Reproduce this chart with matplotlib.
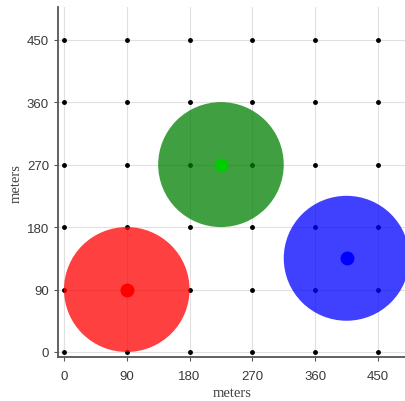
import numpy as np
import matplotlib.pyplot as plt
from matplotlib.patches import Circle

# grid of sensor points (meters)
grid_vals = [0, 90, 180, 270, 360, 450]

# circles: centres and radius
centers_x = [90, 225, 405]
centers_y = [90, 270, 135]
radii = [90, 90, 90]
fill_colors = ['#ff0000', '#007f00', '#0000ff']
dot_colors = ['#ff0000', '#00cc00', '#0000ff']

plt.rcParams['font.family'] = ['Liberation Sans', 'DejaVu Sans']

fig = plt.figure(figsize=(4.06, 4.02), dpi=100)
ax = fig.add_axes([0.143, 0.109, 0.86, 0.871])

gx, gy = np.meshgrid(grid_vals, grid_vals)
ax.plot(gx.ravel(), gy.ravel(), 'o', color='black', ms=2.5, zorder=2)

for cx, cy, r, fc, dc in zip(centers_x, centers_y, radii, fill_colors, dot_colors):
    ax.add_patch(Circle((cx, cy), r, facecolor=fc, edgecolor='none', alpha=0.75, zorder=3))
    ax.plot(cx, cy, 'o', color=dc, ms=9, zorder=4)

ax.set_xlim(-8.5, 492)
ax.set_ylim(-7.5, 497)
ax.set_xticks(grid_vals)
ax.set_yticks(grid_vals)
ax.grid(True, color='#e0e0e0', lw=0.8, zorder=0)
ax.set_axisbelow(True)

for s in ['top', 'right']:
    ax.spines[s].set_visible(False)
for s in ['left', 'bottom']:
    ax.spines[s].set_color('#555555')
    ax.spines[s].set_linewidth(1.3)

ax.tick_params(direction='out', length=3, width=0.8, color='#555555',
               labelsize=9.5, labelcolor='#3a3a3a')
ax.tick_params(axis='x', pad=6)
ax.set_xlabel('meters', family='Liberation Serif', fontsize=10.5, color='#444444', labelpad=3)
ax.set_ylabel('meters', family='Liberation Serif', fontsize=10.5, color='#444444', labelpad=3)

fig.savefig('out.png', dpi=100)
